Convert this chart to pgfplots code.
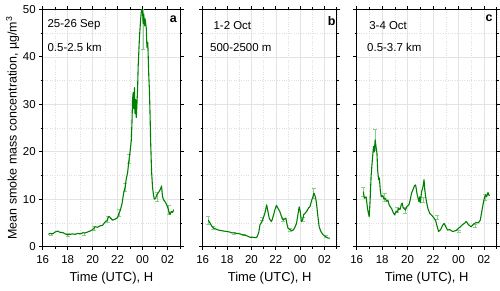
\documentclass[border=0pt]{standalone}
\usepackage{pgfplots}
\pgfplotsset{compat=1.18}
\usepackage{fontspec}
\setmainfont{Liberation Sans}
\definecolor{lgreen}{RGB}{0,128,0}
\definecolor{egreen}{RGB}{140,205,140}
\tikzset{
  txt/.style={anchor=west, font=\fontsize{11.5}{13}\selectfont},
  lett/.style={font=\bfseries\fontsize{12.5}{14}\selectfont},
}
\pgfplotsset{
  panel/.style={
    scale only axis, anchor=south west,
    height=237.4bp,
    xmin=16, xmax=27, ymin=0, ymax=50,
    xtick={16,18,20,22,24,26},
    xticklabels={16,18,20,22,00,02},
    minor xtick={17,19,21,23,25,27},
    ytick={0,10,20,30,40,50},
    minor ytick={5,15,25,35,45},
    tick align=outside,
    major tick length=3.5bp, minor tick length=2bp,
    grid=both,
    major grid style={gray!22, line width=0.5pt},
    minor grid style={gray!25, dotted, line width=0.4pt},
    axis line style={line width=0.8pt},
    every tick/.style={black, line width=0.6pt},
    /pgf/number format/assume math mode=true,
    tick label style={font=\fontsize{11.5}{13}\selectfont},
    xticklabel style={yshift=-1.5bp},
    xlabel={Time (UTC), H},
    xlabel style={font=\fontsize{13}{15}\selectfont, yshift=-2bp},
    clip=true,
  },
  dat/.style={lgreen, line width=1.1pt, mark=none, line join=round},
  err/.style={draw=none, mark=none,
     error bars/y dir=both, error bars/y explicit,
     error bars/error bar style={draw=egreen, line width=0.6pt},
     error bars/error mark options={draw=egreen, mark size=2bp, line width=0.6pt, rotate=90}},
}
\begin{document}
\begin{tikzpicture}
\path[use as bounding box] (0,0) rectangle (500bp,291bp);
% ---------------- panel a
\begin{axis}[panel, at={(42.7bp,44.3bp)}, width=137.3bp,
  ylabel={Mean smoke mass concentration, µg/m\textsuperscript{3}},
  ylabel style={font=\fontsize{12.5}{14}\selectfont, yshift=-3bp}]
\addplot[err] table[y error index=2] {
16.7 2.6 0.3
18.0 2.5 0.3
19.3 2.8 0.3
20.1 3.8 0.4
21.2 5.8 0.6
22.15 7.2 0.7
22.6 12.5 0.8
22.9 18.5 1.0
24.05 46 4.5
25.15 10.5 1.0
26.1 7.8 0.9
};
\addplot[dat] table {
16.45 2.6
16.6 2.8
16.8 2.7
17.0 3.1
17.2 3.3
17.4 3.0
17.6 3.0
17.8 2.7
18.0 2.5
18.2 2.6
18.4 2.7
18.6 2.6
18.8 2.8
19.0 2.7
19.2 2.9
19.4 2.9
19.6 3.1
19.8 3.3
20.0 3.6
20.2 4.2
20.4 4.1
20.6 4.4
20.8 4.5
21.0 5.2
21.15 5.5
21.3 6.4
21.45 6.0
21.6 5.6
21.8 5.8
22.0 6.1
22.1 7.0
22.2 7.5
22.35 9.0
22.5 11.5
22.6 12.5
22.7 14.4
22.8 15.5
22.9 18
23.0 20.0
23.1 22.5
23.15 26
23.2 31
23.25 32.5
23.3 29
23.35 33.5
23.4 28
23.45 31
23.5 27.2
23.6 33
23.65 38
23.75 44
23.85 48
23.92 50
24.0 49.5
24.05 47
24.1 49
24.15 46.5
24.2 48
24.3 46
24.35 42
24.42 43
24.5 36
24.55 33
24.6 28
24.65 22
24.72 16
24.8 12.5
24.88 10.8
24.95 10
25.05 10.2
25.15 11
25.3 11.5
25.45 12.2
25.52 12.8
25.6 10.5
25.7 9.8
25.8 9.5
25.9 9.0
26.0 8.4
26.1 7.5
26.2 6.8
26.3 7.4
26.4 7.2
26.5 7.8
};
\node[txt] at (rel axis cs:0.01,0.935) {25-26 Sep};
\node[txt] at (rel axis cs:0.01,0.838) {0.5-2.5 km};
\node[lett] at (rel axis cs:0.951,0.957) {a};
\end{axis}
% ---------------- panel b
\begin{axis}[panel, at={(202.7bp,44.3bp)}, width=134bp, yticklabels={}]
\addplot[err] table[y error index=2] {
16.46 5.6 0.8
16.85 4.0 0.3
18.6 2.9 0.2
19.4 2.5 0.2
20.9 5.8 0.3
22.6 5.7 0.3
23.2 3.5 0.3
24.2 5.8 0.4
25.1 11.2 1.0
26.1 2.2 0.3
};
\addplot[dat] table {
16.46 5.6
16.6 5.0
16.75 4.3
16.9 3.9
17.1 3.7
17.3 3.5
17.5 3.4
17.7 3.3
17.97 3.2
18.2 3.1
18.4 2.9
18.6 2.9
18.8 2.8
19.06 2.7
19.3 2.5
19.5 2.4
19.7 2.2
19.88 2.0
20.1 2.0
20.3 1.9
20.45 2.0
20.6 3.0
20.7 4.6
20.85 5.2
20.97 6.0
21.1 7.0
21.25 8.8
21.35 7.5
21.46 6.0
21.55 5.6
21.65 5.3
21.8 6.5
21.93 7.8
22.05 8.7
22.1 8.5
22.2 8.0
22.33 7.4
22.45 6.5
22.6 5.6
22.7 5.8
22.83 6.0
22.9 5.0
23.0 3.9
23.15 3.6
23.3 3.4
23.43 3.5
23.55 4.0
23.7 4.9
23.8 6.5
23.92 8.4
24.0 7.5
24.1 5.3
24.2 5.6
24.3 6.8
24.39 7.0
24.55 7.5
24.7 8.2
24.8 8.4
24.95 9.8
25.05 10.5
25.13 11.3
25.25 10.5
25.34 9.2
25.45 6.5
25.56 4.2
25.7 3.2
25.89 2.5
26.1 2.1
26.3 1.8
26.43 1.8
};
\node[txt] at (rel axis cs:0.055,0.93) {1-2 Oct};
\node[txt] at (rel axis cs:0.03,0.838) {500-2500 m};
\node[lett] at (rel axis cs:0.963,0.95) {b};
\end{axis}
% ---------------- panel c
\begin{axis}[panel, at={(356.7bp,44.3bp)}, width=140bp, yticklabels={}]
\addplot[err] table[y error index=2] {
16.52 11.6 1.0
17.45 22.5 2.2
18.2 10.4 0.8
19.2 7.8 0.6
19.8 7.6 0.6
21.2 9.8 0.5
22.3 6.2 0.5
24.0 3.3 0.2
25.3 4.4 0.3
26.1 10.4 0.6
};
\addplot[dat] table {
16.52 11.6
16.6 10.2
16.74 10.5
16.85 8.0
16.98 6.3
17.05 9.5
17.13 14.8
17.22 18
17.32 21.1
17.38 20
17.45 22.5
17.52 21
17.59 19.7
17.65 16
17.72 14.1
17.78 14.5
17.85 12
17.93 10.5
18.05 10.8
18.15 10.0
18.25 10.2
18.35 9.6
18.45 9.8
18.55 8.8
18.64 8.4
18.75 8.0
18.85 7.3
18.98 6.7
19.1 7.5
19.2 7.3
19.3 8.1
19.4 7.8
19.5 8.8
19.57 9.2
19.65 8.2
19.75 8.0
19.83 7.7
19.95 8.5
20.1 8.8
20.2 9.8
20.31 11.3
20.45 12.2
20.55 12.9
20.63 13.0
20.75 11.0
20.89 9.5
20.95 10.5
21.0 9.3
21.1 11.6
21.2 12.5
21.29 14.1
21.35 12
21.42 10.5
21.48 9.5
21.6 8.0
21.74 7.0
21.9 6.6
22.08 6.0
22.2 5.5
22.3 4.5
22.43 3.2
22.6 3.6
22.75 4.5
22.87 4.9
23.0 4.2
23.14 3.5
23.3 3.6
23.54 3.2
23.8 3.4
24.06 4.0
24.3 4.6
24.5 5.0
24.6 5.3
24.8 4.6
24.99 4.2
25.2 4.8
25.39 5.1
25.55 5.0
25.71 5.6
25.8 7.0
25.92 8.8
26.05 10.5
26.13 10.9
26.2 10.5
26.32 11.4
26.4 10.8
26.45 10.9
};
\node[txt] at (rel axis cs:0.065,0.93) {3-4 Oct};
\node[txt] at (rel axis cs:0.05,0.838) {0.5-3.7 km};
\node[lett] at (rel axis cs:0.945,0.962) {c};
\end{axis}
\end{tikzpicture}
\end{document}
